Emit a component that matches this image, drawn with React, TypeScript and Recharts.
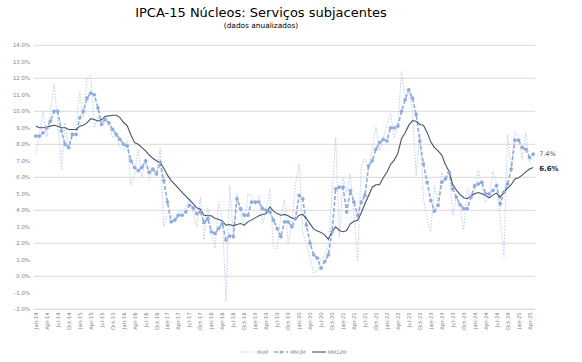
import React from "react";
import {
  CartesianGrid,
  LabelList,
  Line,
  LineChart,
  XAxis,
  YAxis
} from "recharts";

const monthNames = ["Jan", "Feb", "Mar", "Apr", "May", "Jun", "Jul", "Aug", "Sep", "Oct", "Nov", "Dec"];

// Jan-14 .. May-25
const months: string[] = [];
for (let year = 14; year <= 25; year++) {
  for (let m = 0; m < 12; m++) {
    if (year === 25 && m > 4) break;
    months.push(`${monthNames[m]}-${year}`);
  }
}

const mom = [
  7.4, 8.6, 10.0, 8.4, 10.0, 11.6, 9.4, 6.5, 9.3, 7.8, 8.8, 9.2,
  11.2, 9.6, 12.0, 12.2, 9.0, 9.7, 9.4, 9.6, 9.2, 8.4, 8.5, 7.8,
  7.6, 8.2, 5.5, 6.2, 7.7, 6.0, 7.1, 5.8, 6.5, 6.2, 7.8, 3.0,
  3.9, 3.7, 3.5, 3.9, 3.9, 4.2, 4.7, 3.9, 3.0, 4.8, 2.2, 4.2,
  2.7, 1.7, 4.5, 3.5, -1.5, 5.5, 2.5, 5.0, 3.9, 3.0, 5.0, 4.9,
  4.3, 4.9, 3.2, 3.9, 5.3, 1.7, 1.7, 3.7, 4.6, 2.0, 3.1, 5.6,
  6.8, 2.7, 1.9, 1.1, 0.2, 0.3, 1.1, 1.2, 1.9, 5.0, 8.4, 2.4,
  6.0, 5.1, 6.2, 3.7, 0.9, 6.7, 7.1, 6.5, 7.75, 9.1, 7.65, 8.35,
  9.2, 9.9, 8.35, 9.2, 12.4, 10.8, 11.4, 10.0, 6.1, 8.6, 4.7, 3.5,
  2.7, 5.5, 4.5, 6.3, 5.9, 6.5, 3.7, 4.9, 4.1, 2.8, 5.3, 4.7,
  5.1, 6.4, 5.5, 4.5, 4.9, 6.4, 5.5, 3.5, 1.2, 8.6, 6.5, 8.8,
  8.5, 7.1, 8.7, 6.9, 7.2
];

const mm3m = [
  8.5, 8.5, 8.7, 9.0, 9.4, 10.0, 10.0, 8.8, 8.0, 7.8, 8.6, 8.6,
  9.6, 10.0, 10.8, 11.1, 11.0, 10.2, 9.2, 9.5, 9.3, 8.9, 8.6, 8.3,
  8.0, 7.9, 7.0, 6.6, 6.4, 6.6, 7.0, 6.3, 6.5, 6.2, 6.9, 5.8,
  4.5, 3.3, 3.4, 3.7, 3.7, 3.9, 4.3, 4.15, 3.8, 3.9, 3.26, 3.5,
  2.7, 2.6, 2.9, 3.2, 2.2, 2.45, 2.4, 4.7, 4.1, 3.7, 3.7, 4.5,
  4.5, 4.5, 4.1, 4.0, 3.9, 3.4, 2.9, 2.4, 3.3, 3.3, 3.0, 3.5,
  4.9, 4.7, 3.1, 2.0, 1.3, 1.1, 0.5, 0.9, 1.3, 2.7, 5.3, 5.4,
  5.4, 3.9, 5.2, 4.5, 3.7, 4.5, 4.9, 6.7, 7.0, 7.7, 8.1, 8.3,
  8.2, 9.0, 9.0, 9.1, 10.0, 10.7, 11.3, 10.8, 9.8, 8.2, 6.8, 5.7,
  4.6, 3.95, 4.3, 5.7, 5.9, 6.3, 5.3, 4.8, 4.35, 4.1, 4.1, 4.8,
  5.5, 5.6, 5.7, 5.0, 5.0, 5.2, 5.5, 4.4, 5.1, 5.6, 6.5, 8.25,
  8.25, 7.8, 7.7, 7.2, 7.4
];

const mm12m = [
  9.1, 9.0, 9.0, 9.05, 9.1, 9.15, 9.1, 9.0, 9.0, 8.9, 8.9, 8.9,
  9.1, 9.15, 9.3, 9.55, 9.5, 9.4, 9.5, 9.7, 9.72, 9.76, 9.76, 9.62,
  9.32, 9.12, 8.56, 8.1, 8.0, 7.8, 7.6, 7.35, 7.15, 7.0, 6.88, 6.55,
  6.13, 5.8, 5.57, 5.33, 5.08, 4.86, 4.64, 4.41, 4.15, 4.07, 3.7, 3.67,
  3.67, 3.5, 3.46, 3.34, 3.1, 3.14, 3.06, 3.14, 3.2, 3.1, 3.3, 3.42,
  3.54, 3.67, 3.75, 3.8, 4.2, 3.95, 3.8, 3.7, 3.75, 3.67, 3.54, 3.46,
  3.7, 3.75, 3.5, 3.18, 2.86, 2.74, 2.66, 2.5, 2.25, 2.7, 3.0, 2.78,
  2.7, 2.78, 3.18, 3.34, 3.4, 3.85, 4.4, 4.9, 5.4, 5.55, 5.55, 5.97,
  6.3, 6.78, 7.04, 7.45, 8.35, 8.7, 9.16, 9.44, 9.4, 9.2, 9.16, 8.72,
  8.15, 7.8, 7.6, 7.35, 6.78, 6.35, 5.57, 5.22, 4.96, 4.76, 4.7, 4.88,
  5.0, 5.08, 5.0, 4.88, 4.76, 4.92, 5.04, 4.8, 5.12, 5.35, 5.55, 5.9,
  5.97, 6.13, 6.33, 6.5, 6.6
];

const yTicks = [-2, -1, 0, 1, 2, 3, 4, 5, 6, 7, 8, 9, 10, 11, 12, 13, 14];

const data = months.map((month, i) => ({
  month,
  mom: mom[i],
  mm3m: mm3m[i],
  mm12m: mm12m[i]
}));

const lastIndex = months.length - 1;
const font = "'DejaVu Sans', sans-serif";
const momColor = "#b4c7e7";
const mm3mColor = "#8faadc";
const mm12mColor = "#44546a";

function MonthTick({ x, y, payload }: any) {
  return (
    <text
      x={x}
      y={y}
      dy={2}
      transform={`rotate(-90, ${x}, ${y})`}
      textAnchor="end"
      fontSize={5.3}
      fontFamily={font}
      fill="#7f7f7f"
    >
      {payload.value}
    </text>
  );
}

function endLabel(bold: boolean, dy: number) {
  return (props: any) => {
    const { x, y, index, value } = props;
    if (index !== lastIndex) return null;
    return (
      <text
        x={x + 6}
        y={y + dy}
        fontSize={bold ? 7 : 6.5}
        fontWeight={bold ? "bold" : "normal"}
        fontFamily={font}
        fill={bold ? "#262626" : "#595959"}
        dominantBaseline="middle"
      >
        {`${Number(value).toFixed(1)}%`}
      </text>
    );
  };
}

function LegendItem({ label, color, dash, dot, width }: any) {
  return (
    <span style={{ display: "inline-flex", alignItems: "center", marginRight: 6 }}>
      <svg width={14} height={6}>
        <line x1={0} y1={3} x2={14} y2={3} stroke={color} strokeWidth={width} strokeDasharray={dash} />
        {dot ? <circle cx={7} cy={3} r={1.6} fill={color} /> : null}
      </svg>
      <span style={{ marginLeft: 2 }}>{label}</span>
    </span>
  );
}

export default function App() {
  return (
    <div style={{ position: "absolute", left: 0, top: 0, width: 582, height: 362, background: "#fff" }}>
      <div
        style={{
          position: "absolute",
          left: 0,
          top: 6,
          width: 522,
          textAlign: "center",
          fontFamily: font,
          fontSize: 13,
          lineHeight: "13px",
          color: "#000"
        }}
      >
        IPCA-15 Núcleos: Serviços subjacentes
      </div>
      <div
        style={{
          position: "absolute",
          left: 0,
          top: 21,
          width: 522,
          textAlign: "center",
          fontFamily: font,
          fontSize: 7.4,
          lineHeight: "9px",
          color: "#000"
        }}
      >
        (dados anualizados)
      </div>
      <LineChart
        width={582}
        height={362}
        data={data}
        margin={{ top: 45.3, right: 47, left: 0, bottom: 22.7 }}
      >
        <CartesianGrid vertical={false} stroke="#d9d9d9" strokeWidth={1} />
        <XAxis
          dataKey="month"
          interval={2}
          tickSize={0}
          tickMargin={3}
          height={30}
          padding={{ left: 1.83, right: 1.83 }}
          axisLine={{ stroke: "#d9d9d9" }}
          tick={<MonthTick />}
        />
        <YAxis
          domain={[-2, 14]}
          ticks={yTicks}
          tickFormatter={(v) => `${Number(v).toFixed(1)}%`}
          width={34}
          axisLine={false}
          tickLine={false}
          tickSize={0}
          tickMargin={4}
          tick={{ fontSize: 5.4, fontFamily: font, fill: "#7f7f7f" }}
        />
        <Line
          dataKey="mom"
          stroke={momColor}
          strokeWidth={0.9}
          strokeDasharray="1.5 1.5"
          dot={false}
          isAnimationActive={false}
        />
        <Line
          dataKey="mm3m"
          stroke={mm3mColor}
          strokeWidth={1.6}
          strokeDasharray="4 2"
          dot={{ r: 1.6, fill: mm3mColor, stroke: mm3mColor, strokeWidth: 0.5, strokeDasharray: "" }}
          isAnimationActive={false}
        >
          <LabelList dataKey="mm3m" content={endLabel(false, 0)} />
        </Line>
        <Line
          dataKey="mm12m"
          stroke={mm12mColor}
          strokeWidth={1.1}
          dot={false}
          isAnimationActive={false}
        >
          <LabelList dataKey="mm12m" content={endLabel(true, 2)} />
        </Line>
      </LineChart>
      <div
        style={{
          position: "absolute",
          left: 241,
          top: 349,
          display: "flex",
          fontFamily: font,
          fontSize: 4.8,
          color: "#7f7f7f",
          whiteSpace: "nowrap"
        }}
      >
        <LegendItem label="MoM" color={momColor} dash="1.5 1.5" width={0.9} />
        <LegendItem label="MM3M" color={mm3mColor} dash="4 2" width={1.6} dot />
        <LegendItem label="MM12M" color={mm12mColor} width={1.1} />
      </div>
    </div>
  );
}
